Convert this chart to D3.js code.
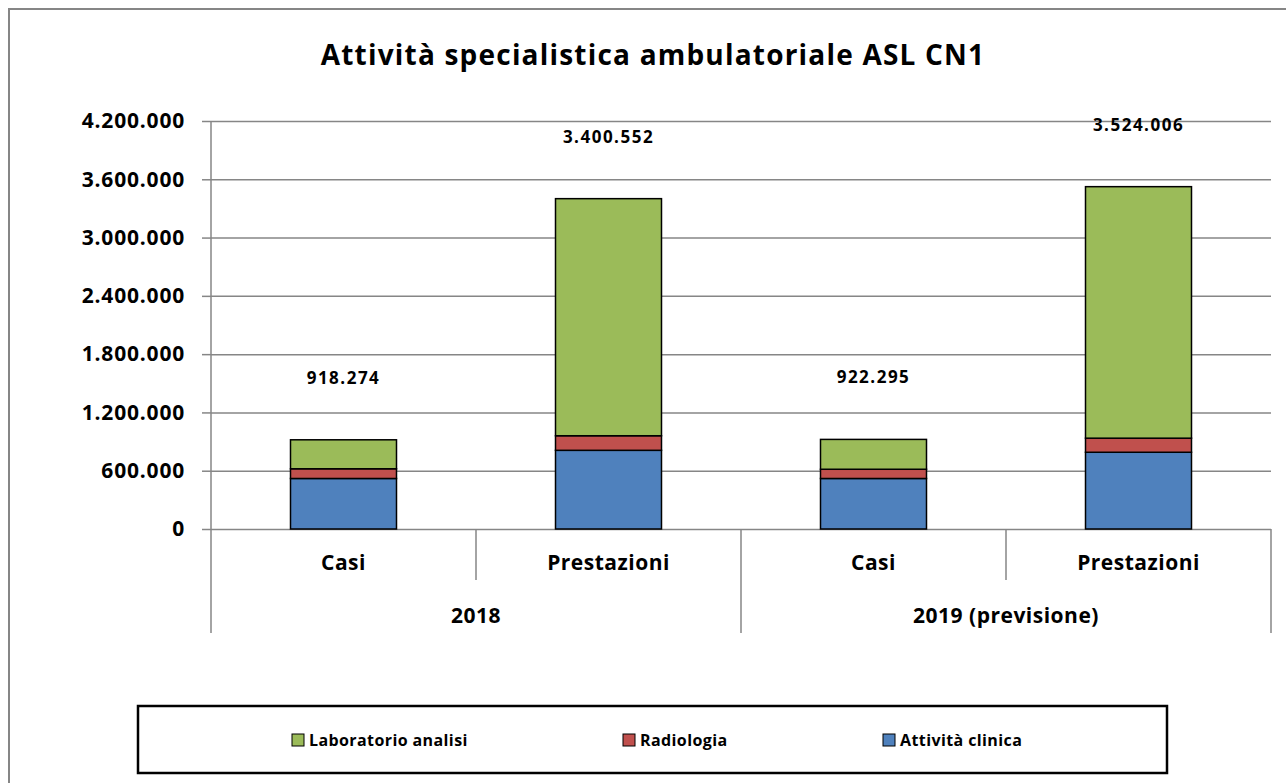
<!DOCTYPE html>
<html>
<head>
<meta charset="utf-8">
<script src="https://cdn.jsdelivr.net/npm/d3@7"></script>
<style>
  body { margin: 0; background: #fff; }
  text { font-family: "Open Sans", Lato, sans-serif; font-weight: bold; fill: #000; }
</style>
</head>
<body>
<div id="chart"></div>
<script>
// data
const years = ["2018", "2019 (previsione)"];
const categories = ["Casi", "Prestazioni"];
const seriesNames = ["Attività clinica", "Radiologia", "Laboratorio analisi"];
const seriesColors = ["#4F81BD", "#C0504D", "#9BBB59"];
const clinica = [520000, 810000, 520000, 790000];
const radiologia = [100000, 150000, 95000, 145000];
const laboratorio = [298274, 2440552, 307295, 2589006];
const totals = [918274, 3400552, 922295, 3524006];
const yTicks = [0, 600000, 1200000, 1800000, 2400000, 3000000, 3600000, 4200000];

const W = 1286, H = 783;
const plotLeft = 211, plotRight = 1271, plotTop = 121, plotBottom = 529;

const it = d3.formatLocale({decimal: ",", thousands: ".", grouping: [3], currency: ["", "€"]});
const fmt = it.format(",d");

const svg = d3.select("#chart").append("svg")
  .attr("width", W).attr("height", H);

// outer frame
svg.append("rect")
  .attr("x", 9).attr("y", 9).attr("width", W + 20).attr("height", H + 20)
  .attr("fill", "none").attr("stroke", "#868686").attr("stroke-width", 2);

svg.append("text")
  .attr("x", 653).attr("y", 65)
  .attr("text-anchor", "middle")
  .style("font-size", "28px")
  .style("letter-spacing", "1.2px")
  .text("Attività specialistica ambulatoriale ASL CN1");

// rows: one per bar
const rows = [];
years.forEach((yr, i) => categories.forEach((c, j) => {
  const k = i * categories.length + j;
  rows.push({key: yr + "|" + c, year: yr, cat: c,
    "Attività clinica": clinica[k], "Radiologia": radiologia[k],
    "Laboratorio analisi": laboratorio[k], total: totals[k]});
}));

const x = d3.scaleBand().domain(rows.map(d => d.key))
  .range([plotLeft, plotRight]).paddingInner(0.6).paddingOuter(0.3);
const y = d3.scaleLinear().domain([0, 4200000]).range([plotBottom, plotTop]);

// gridlines + y axis
const yAxis = svg.append("g")
  .attr("transform", `translate(${plotLeft},0)`)
  .call(d3.axisLeft(y).tickValues(yTicks).tickFormat(fmt).tickSize(9).tickPadding(17));
yAxis.select(".domain").remove();
yAxis.selectAll(".tick line").attr("stroke", "#868686").attr("stroke-width", 1.5);
yAxis.selectAll(".tick text")
  .style("font-size", "21px").style("letter-spacing", "0.8px")
  .style("font-family", "'Open Sans', sans-serif").style("font-weight", "bold");
yAxis.selectAll(".tick").append("line")
  .attr("x1", 0).attr("x2", plotRight - plotLeft)
  .attr("stroke", "#868686").attr("stroke-width", 1.5);

// vertical axis line and category separators
const axisBottom = 633;
svg.append("line").attr("x1", plotLeft).attr("x2", plotLeft).attr("y1", plotTop).attr("y2", axisBottom)
  .attr("stroke", "#868686").attr("stroke-width", 1.5);
svg.append("line").attr("x1", plotRight).attr("x2", plotRight).attr("y1", plotBottom).attr("y2", axisBottom)
  .attr("stroke", "#868686").attr("stroke-width", 1.5);
const step = x.step();
rows.forEach((d, i) => {
  if (i === 0) return;
  const sx = x(d.key) - x.paddingInner() * step / 2;
  const isGroup = d.year !== rows[i - 1].year;
  svg.append("line").attr("x1", sx).attr("x2", sx)
    .attr("y1", plotBottom).attr("y2", isGroup ? axisBottom : 580)
    .attr("stroke", "#868686").attr("stroke-width", 1.5);
});

// stacked bars
const stack = d3.stack().keys(seriesNames)(rows);
const color = d3.scaleOrdinal().domain(seriesNames).range(seriesColors);
svg.append("g").selectAll("g").data(stack).join("g")
  .attr("fill", s => color(s.key))
  .selectAll("rect").data(s => s).join("rect")
  .attr("x", d => x(d.data.key))
  .attr("width", x.bandwidth())
  .attr("y", d => y(d[1]))
  .attr("height", d => y(d[0]) - y(d[1]))
  .attr("stroke", "#000").attr("stroke-width", 1.5);

// total labels
svg.append("g").selectAll("text").data(rows).join("text")
  .attr("x", d => x(d.key) + x.bandwidth() / 2)
  .attr("y", d => y(d.total) - 56)
  .attr("text-anchor", "middle")
  .style("font-size", "17px")
  .style("letter-spacing", "1.5px")
  .text(d => fmt(d.total));

// category labels
svg.append("g").selectAll("text").data(rows).join("text")
  .attr("x", d => x(d.key) + x.bandwidth() / 2)
  .attr("y", 570)
  .attr("text-anchor", "middle")
  .style("font-size", "21px")
  .style("letter-spacing", "0.5px")
  .text(d => d.cat);

// year labels
const groupW = (plotRight - plotLeft) / years.length;
svg.append("g").selectAll("text").data(years).join("text")
  .attr("x", (d, i) => plotLeft + groupW * (i + 0.5))
  .attr("y", 623)
  .attr("text-anchor", "middle")
  .style("font-size", "21px")
  .style("letter-spacing", "0.5px")
  .text(d => d);

// legend
svg.append("rect")
  .attr("x", 138).attr("y", 706).attr("width", 1029).attr("height", 67)
  .attr("fill", "#fff").attr("stroke", "#000").attr("stroke-width", 2.5);
const legendItems = ["Laboratorio analisi", "Radiologia", "Attività clinica"];
const legendX = [292, 623, 883];
const lg = svg.append("g").selectAll("g").data(legendItems).join("g")
  .attr("transform", (d, i) => `translate(${legendX[i]},734)`);
lg.append("rect").attr("width", 12).attr("height", 12)
  .attr("fill", d => color(d)).attr("stroke", "#000").attr("stroke-width", 1);
lg.append("text").attr("x", 17).attr("y", 12)
  .style("font-size", "16px")
  .style("letter-spacing", "0.4px")
  .text(d => d);
</script>
</body>
</html>
